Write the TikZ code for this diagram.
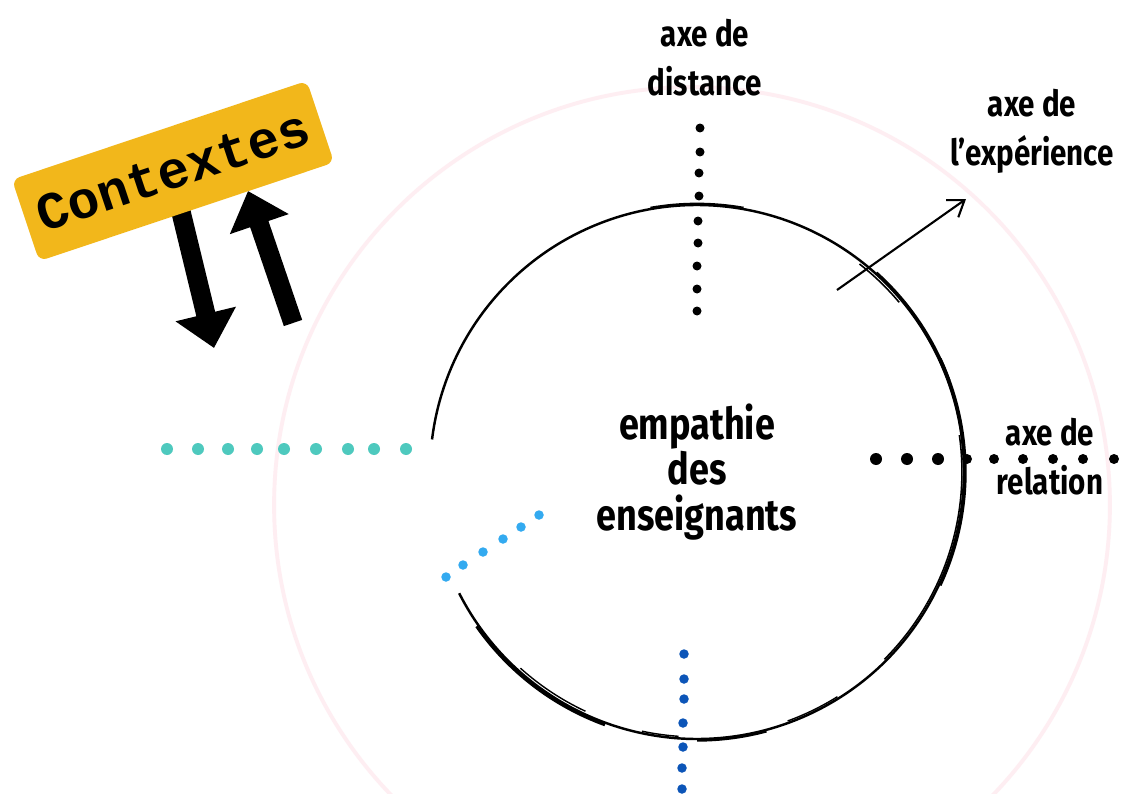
\documentclass[tikz,border=0pt]{standalone}
\usepackage{fontspec}
\setmainfont{Fira Sans}
\newfontfamily\hand{Fira Sans}[FakeStretch=0.82]
\newfontfamily\typew{Liberation Mono}
\usetikzlibrary{arrows.meta}
\definecolor{ctxyellow}{RGB}{242,183,27}
\definecolor{pinkline}{RGB}{254,238,242}
\definecolor{tealdot}{RGB}{78,201,190}
\definecolor{lightbluedot}{RGB}{51,170,240}
\definecolor{darkbluedot}{RGB}{12,85,184}
\begin{document}
\begin{tikzpicture}[x=0.02cm,y=-0.02cm,
  axislabel/.style={font=\hand\bfseries\fontsize{20.5}{28}\selectfont, align=center, inner sep=0pt},
  sketch/.style={line width=1.4pt, black},
  bigarrow/.style={line width=11pt, -{Triangle[width=1.2cm,length=0.7cm]}},
]
\useasboundingbox (0,0) rectangle (1129,794);
\fill[white] (0,0) rectangle (1129,794);

% faint outer circle
\coordinate (oc) at (692,505);
\draw[pinkline, line width=2.2pt] (oc) circle[radius=8.36cm];

% main circle (sketchy)
\node (core) [circle, minimum size=10.68cm, inner sep=0pt, align=center,
  font=\hand\bfseries\fontsize{25}{26}\selectfont] at (697,472) {empathie\\des\\enseignants};
\draw[sketch] (core.center) ++(207:5.34cm) arc[start angle=207, end angle=533, radius=5.34cm];
\draw[line width=2pt] (core.center) ++(25:5.36cm) arc[start angle=25, end angle=-25, radius=5.36cm];
\draw[line width=0.9pt] (core.center) ++(8:5.30cm) arc[start angle=8, end angle=-30, radius=5.30cm];
\draw[line width=0.9pt] (core.center) ++(52:5.28cm) arc[start angle=52, end angle=40, radius=5.28cm];
\draw[line width=1.8pt] (core.center) ++(48:5.36cm) arc[start angle=48, end angle=20, radius=5.36cm];
\draw[line width=1.8pt] (core.center) ++(215:5.38cm) arc[start angle=215, end angle=250, radius=5.38cm];
\draw[line width=0.8pt] (core.center) ++(228:5.28cm) arc[start angle=228, end angle=245, radius=5.28cm];
\draw[line width=0.8pt] (core.center) ++(258:5.30cm) arc[start angle=258, end angle=266, radius=5.30cm];
\draw[line width=1.4pt] (core.center) ++(270:5.37cm) arc[start angle=270, end angle=285, radius=5.37cm];
\draw[line width=0.8pt] (core.center) ++(290:5.30cm) arc[start angle=290, end angle=302, radius=5.30cm];
\draw[line width=0.9pt] (core.center) ++(315:5.30cm) arc[start angle=315, end angle=330, radius=5.30cm];
\draw[line width=1.6pt] (core.center) ++(80:5.36cm) arc[start angle=80, end angle=100, radius=5.36cm];

% labels
\node (dist) [axislabel] at (705,58) {axe de\\distance};
\node (exp) [axislabel] at (1032,131) {axe de\\l’expérience};
\node (rel) [axislabel] at (1050,457) {axe de\\relation};

% experience arrow
\coordinate (e1) at (837,290);
\coordinate (e2) at (966,199);
\draw[line width=1.2pt, -{Straight Barb[length=0.3cm,width=0.42cm]}] (e1) -- (e2);

% top black dotted axis
\foreach \y/\x in {128/700,152/700,173/699,196/699,221/698,243/698,266/697,289/697,311/697}
  \fill[black] (\x,\y) circle[radius=0.09cm];
% right black dotted axis
\foreach \x/\r in {876/0.12,907/0.12,938/0.12,967/0.1,994/0.1,1023/0.1,1053/0.1,1083/0.1,1114/0.1}
  \fill[black] (\x,459) circle[radius=\r cm];
% teal dotted axis
\foreach \x in {167,198,228,257,284,316,348,374,406}
  \fill[tealdot] (\x,449) circle[radius=0.12cm];
% light blue diagonal
\foreach \x/\y in {446/577,463/565,483/552,503/539,521/527,539/515}
  \fill[lightbluedot] (\x,\y) circle[radius=0.095cm];
% dark blue vertical
\foreach \x/\y in {684/654,684/679,684/699,683/723,683/747,682/768,682/789}
  \fill[darkbluedot] (\x,\y) circle[radius=0.095cm];

% context arrows
\coordinate (d1) at (181,212);
\coordinate (d2) at (214,348);
\coordinate (u1) at (293,323);
\coordinate (u2) at (248,191);
\draw[bigarrow] (d1) -- (d2);
\draw[bigarrow] (u1) -- (u2);

% contextes box
\node (ctx) [rotate=18.5, fill=ctxyellow, rounded corners=0.16cm,
  minimum width=6.22cm, minimum height=1.72cm, inner sep=0pt,
  font=\typew\bfseries\fontsize{30}{30}\selectfont] at (173,171) {Contextes};
\end{tikzpicture}
\end{document}
